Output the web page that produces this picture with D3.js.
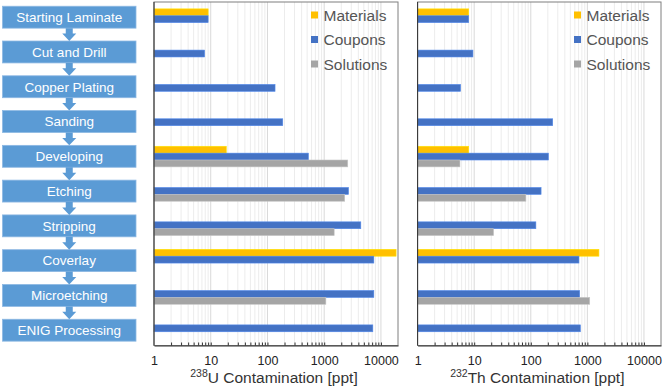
<!DOCTYPE html>
<html>
<head>
<meta charset="utf-8">
<script src="https://cdn.jsdelivr.net/npm/d3@7"></script>
<style>
  body { margin: 0; background: #fff; }
  text { font-family: "Liberation Sans", Arial, sans-serif; }
</style>
</head>
<body>
<div id="chart"></div>
<script>
// data
const steps = ["Starting Laminate", "Cut and Drill", "Copper Plating", "Sanding", "Developing",
  "Etching", "Stripping", "Coverlay", "Microetching", "ENIG Processing"];
const seriesNames = ["Materials", "Coupons", "Solutions"];
const seriesColors = ["#FFC000", "#4472C4", "#A5A5A5"];
const uMaterials = [9, null, null, null, 18.8, null, null, 18500, null, null];
const uCoupons = [9, 7.8, 136, 186, 527, 2680, 4420, 7500, 7500, 7200];
const uSolutions = [null, null, null, null, 2600, 2300, 1500, null, 1070, null];
const thMaterials = [8, null, null, null, 8, null, null, 1600, null, null];
const thCoupons = [8, 9.5, 5.75, 244, 205, 152, 123, 710, 731, 753];
const thSolutions = [null, null, null, null, 5.6, 82, 22, null, 1100, null];
const tickLabels = [1, 10, 100, 1000, 10000];

const width = 665, height = 390;
const svg = d3.select("#chart").append("svg")
  .attr("width", width).attr("height", height);

// flowchart on the left
const boxX = 2.5, boxW = 133.5;
const flowY = d3.scaleBand().domain(steps).range([-0.2, 347.6]).paddingInner(0.37).paddingOuter(0.185);
const flow = svg.append("g");
flow.selectAll("rect").data(steps).enter().append("rect")
  .attr("x", boxX).attr("y", d => flowY(d))
  .attr("width", boxW).attr("height", flowY.bandwidth())
  .attr("fill", "#5B9BD5").attr("stroke", "#8db8e3").attr("stroke-width", 0.8);
flow.selectAll("text").data(steps).enter().append("text")
  .attr("x", boxX + boxW / 2).attr("y", d => flowY(d) + flowY.bandwidth() / 2 + 4.8)
  .attr("text-anchor", "middle").attr("fill", "#fff").attr("font-size", 13.5)
  .text(d => d);
const cx = boxX + boxW / 2;
flow.selectAll("path").data(steps.slice(0, -1)).enter().append("path")
  .attr("d", d => {
    const y0 = flowY(d) + flowY.bandwidth();
    const y1 = y0 + flowY.step() - flowY.bandwidth();
    const ym = y0 + (y1 - y0) * 0.42;
    return `M${cx - 3.5},${y0} L${cx + 3.5},${y0} L${cx + 3.5},${ym} L${cx + 7},${ym} L${cx},${y1} L${cx - 7},${ym} L${cx - 3.5},${ym} Z`;
  })
  .attr("fill", "#5B9BD5");

// bar panels
function drawPanel(left, right, series, isotope, element) {
  const top = 2, bottom = 345.5;
  const x = d3.scaleLog().domain([1, 20000]).range([left, right]);
  const y = d3.scaleBand().domain(steps).range([top, bottom]).paddingInner(0.4).paddingOuter(0.2);
  const ySub = d3.scaleBand().domain(seriesNames).range([0, y.bandwidth()]);
  const g = svg.append("g");

  const gridVals = x.ticks().filter(v => v > 1 && v <= 10000);
  g.selectAll(".grid").data(gridVals).enter().append("line")
    .attr("x1", d => x(d)).attr("x2", d => x(d))
    .attr("y1", top).attr("y2", bottom)
    .attr("stroke", d => tickLabels.includes(d) ? "#d9d9d9" : "#ececec")
    .attr("stroke-width", 1);

  series.forEach((vals, si) => {
    g.append("g").selectAll("rect")
      .data(steps.map((s, i) => ({ step: s, v: vals[i] })).filter(d => d.v != null))
      .enter().append("rect")
      .attr("x", x(1))
      .attr("y", d => y(d.step) + ySub(seriesNames[si]))
      .attr("width", d => x(d.v) - x(1))
      .attr("height", ySub.bandwidth())
      .attr("fill", seriesColors[si])
      .attr("stroke", d3.color(seriesColors[si]).brighter(0.5))
      .attr("stroke-width", 0.6);
  });

  // frame
  g.append("rect").attr("x", left).attr("y", top)
    .attr("width", right - left).attr("height", bottom - top)
    .attr("fill", "none").attr("stroke", "#7f7f7f").attr("stroke-width", 1);
  g.append("line").attr("x1", left).attr("x2", left).attr("y1", top).attr("y2", bottom)
    .attr("stroke", "#333").attr("stroke-width", 1);

  // minor ticks + labels
  const tickAxis = d3.axisBottom(x).tickValues(gridVals).tickSizeInner(-3).tickSizeOuter(0).tickFormat("");
  g.append("g").attr("transform", `translate(0,${bottom})`).call(tickAxis)
    .call(a => a.select(".domain").attr("stroke", "#333"))
    .call(a => a.selectAll(".tick line").attr("stroke", "#333"));
  const labelAxis = d3.axisBottom(x).tickValues(tickLabels).tickSize(0).tickPadding(11).tickFormat(d3.format("d"));
  g.append("g").attr("transform", `translate(0,${bottom})`).call(labelAxis)
    .call(a => a.select(".domain").remove())
    .call(a => a.selectAll("text").attr("font-size", 12.5).attr("fill", "#222")
      .attr("font-family", "Liberation Sans, Arial, sans-serif"));

  const title = g.append("text").attr("x", (left + right) / 2 - 2).attr("y", 383)
    .attr("text-anchor", "middle").attr("font-size", 15.5).attr("fill", "#333");
  title.append("tspan").attr("font-size", 10.5).attr("dy", -6).text(isotope);
  title.append("tspan").attr("dy", 6).text(element + " Contamination [ppt]");

  // legend
  const lx = right - 87;
  const leg = g.selectAll(".leg").data(seriesNames).enter().append("g")
    .attr("transform", (d, i) => `translate(${lx},${15 + i * 24.5})`);
  leg.append("rect").attr("x", 0).attr("y", -3.5).attr("width", 7).attr("height", 7)
    .attr("fill", (d, i) => seriesColors[i]);
  leg.append("text").attr("x", 12.5).attr("y", 5.5).attr("font-size", 15.5).attr("fill", "#555")
    .text(d => d);
}

drawPanel(154, 398, [uMaterials, uCoupons, uSolutions], "238", "U");
drawPanel(417.6, 661, [thMaterials, thCoupons, thSolutions], "232", "Th");
</script>
</body>
</html>
